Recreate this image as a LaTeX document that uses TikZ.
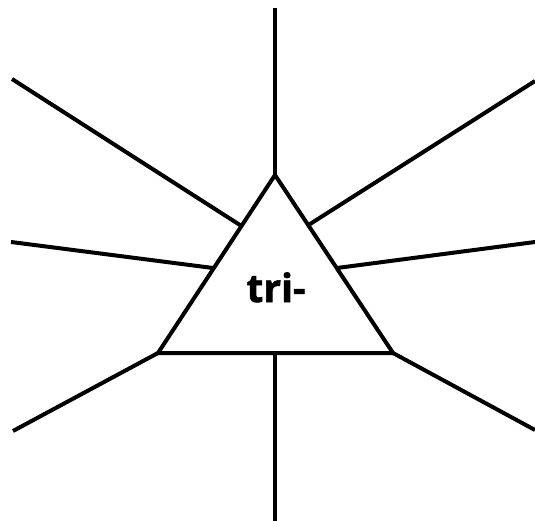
\documentclass[tikz,border=0pt]{standalone}
\usepackage{fontspec}
\setmainfont{Open Sans}
\newfontfamily\heavyfont{Open Sans}[BoldFeatures={FakeBold=1.6}]
\begin{document}
\begin{tikzpicture}[x=1pt,y=-1pt,
  ray/.style={line width=4pt, line cap=butt},
  tri/.style={line width=4pt, line join=miter},
  lbl/.style={font=\heavyfont\fontsize{39}{39}\selectfont\bfseries, inner sep=0pt, anchor=base}]
\useasboundingbox (0,0) rectangle (535,521);
% triangle vertices
\coordinate (A) at (275,175);
\coordinate (B) at (158,353);
\coordinate (C) at (393,353);
\draw[tri] (A) -- (B) -- (C) -- cycle;
\node[lbl] (t) at (276,302) {tri-};
% points on edges
\coordinate (L1) at (241.5,226);
\coordinate (L2) at (213,268);
\coordinate (R1) at (308.5,225);
\coordinate (R2) at (337,268);
\coordinate (M) at (275,353);
% outer ends
\coordinate (o1) at (275,8);
\coordinate (o2) at (12,79);
\coordinate (o3) at (11,242);
\coordinate (o4) at (13,431);
\coordinate (o5) at (275,521);
\coordinate (o6) at (535,430);
\coordinate (o7) at (535,242);
\coordinate (o8) at (535,81);
\draw[ray] (A) -- (o1);
\draw[ray] (L1) -- (o2);
\draw[ray] (L2) -- (o3);
\draw[ray] (B) -- (o4);
\draw[ray] (M) -- (o5);
\draw[ray] (C) -- (o6);
\draw[ray] (R2) -- (o7);
\draw[ray] (R1) -- (o8);
\end{tikzpicture}
\end{document}
